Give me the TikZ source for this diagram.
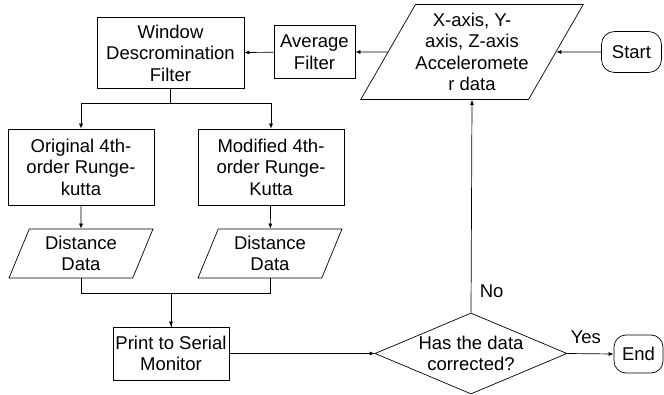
\documentclass[tikz,border=0pt]{standalone}
\usepackage{fontspec}
\setmainfont{Liberation Sans}
\usetikzlibrary{shapes.geometric,arrows.meta}

\begin{document}
\begin{tikzpicture}
        [x=1pt, y=-1pt, line width=0.7pt,
         font=\fontsize{18.5}{21.5}\selectfont,
         box/.style={draw, align=center, inner sep=0pt},
         io/.style={draw, align=center, inner sep=0pt, trapezium,
            trapezium left angle=#1, trapezium right angle=180-#1,
            trapezium stretches body},
         term/.style={draw, align=center, inner sep=0pt, rounded corners=13pt},
         decide/.style={draw, align=center, inner sep=0pt, diamond, aspect=2.37},
         arr/.style={-{Latex[length=5pt,width=4pt]}}]
        \useasboundingbox (0,0) rectangle (664,395);
        % top row, read from right to left
        \node[term, minimum width=60pt, minimum height=41pt] (start) at (631.5,52) {Start};
        \node[io=55, minimum width=221pt, minimum height=95pt] (acc) at (472,52)
            {X-axis, Y-\\axis, Z-axis\\Acceleromete\\r data};
        \node[box, minimum width=81pt, minimum height=53pt] (avg) at (314.5,52) {Average\\Filter};
        \node[box, minimum width=147pt, minimum height=71pt] (win) at (170.5,53)
            {Window\\Descromination\\Filter};
        \node[box, minimum width=146pt, minimum height=76pt] (orig) at (81,167)
            {Original 4th-\\order Runge-\\kutta};
        \node[box, minimum width=146pt, minimum height=76pt] (modi) at (271,167)
            {Modified 4th-\\order Runge-\\Kutta};
        \node[io=60, minimum width=144pt, minimum height=49pt] (dist1) at (81,253.5) {Distance\\Data};
        \node[io=60, minimum width=144pt, minimum height=49pt] (dist2) at (270,253.5) {Distance\\Data};
        \node[box, minimum width=116pt, minimum height=53pt] (print) at (171,353.5)
            {Print to Serial\\Monitor};
        \node[decide, minimum width=192pt, minimum height=81pt] (check) at (471,353.5)
            {Has the data\\corrected?};
        \node[term, minimum width=49pt, minimum height=38pt, rounded corners=12pt] (end) at (638.5,354) {End};

        \draw[arr] (start) -- (acc);
        \draw[arr] (acc) -- (avg);
        \draw[arr] (avg) -- (win);
        \draw[arr] (win.south) -- ++(0,15) -| (orig.north);
        \draw[arr] (win.south) -- ++(0,15) -| (modi.north);
        \draw[arr] (orig) -- (dist1);
        \draw[arr] (modi) -- (dist2);
        \draw[arr] (dist1.south) -- ++(0,15) -| (print.north);
        \draw (dist2.south) -- ++(0,15) -| (print.north);
        \draw[arr] (print) -- (check);
        \draw[arr] (check.north) -- node[pos=0.1, right=5pt] {No} (acc.south);
        \draw[arr] (check.east) -- node[pos=0.4, above=6pt] {Yes} (end.west);
    \end{tikzpicture}
\end{document}
